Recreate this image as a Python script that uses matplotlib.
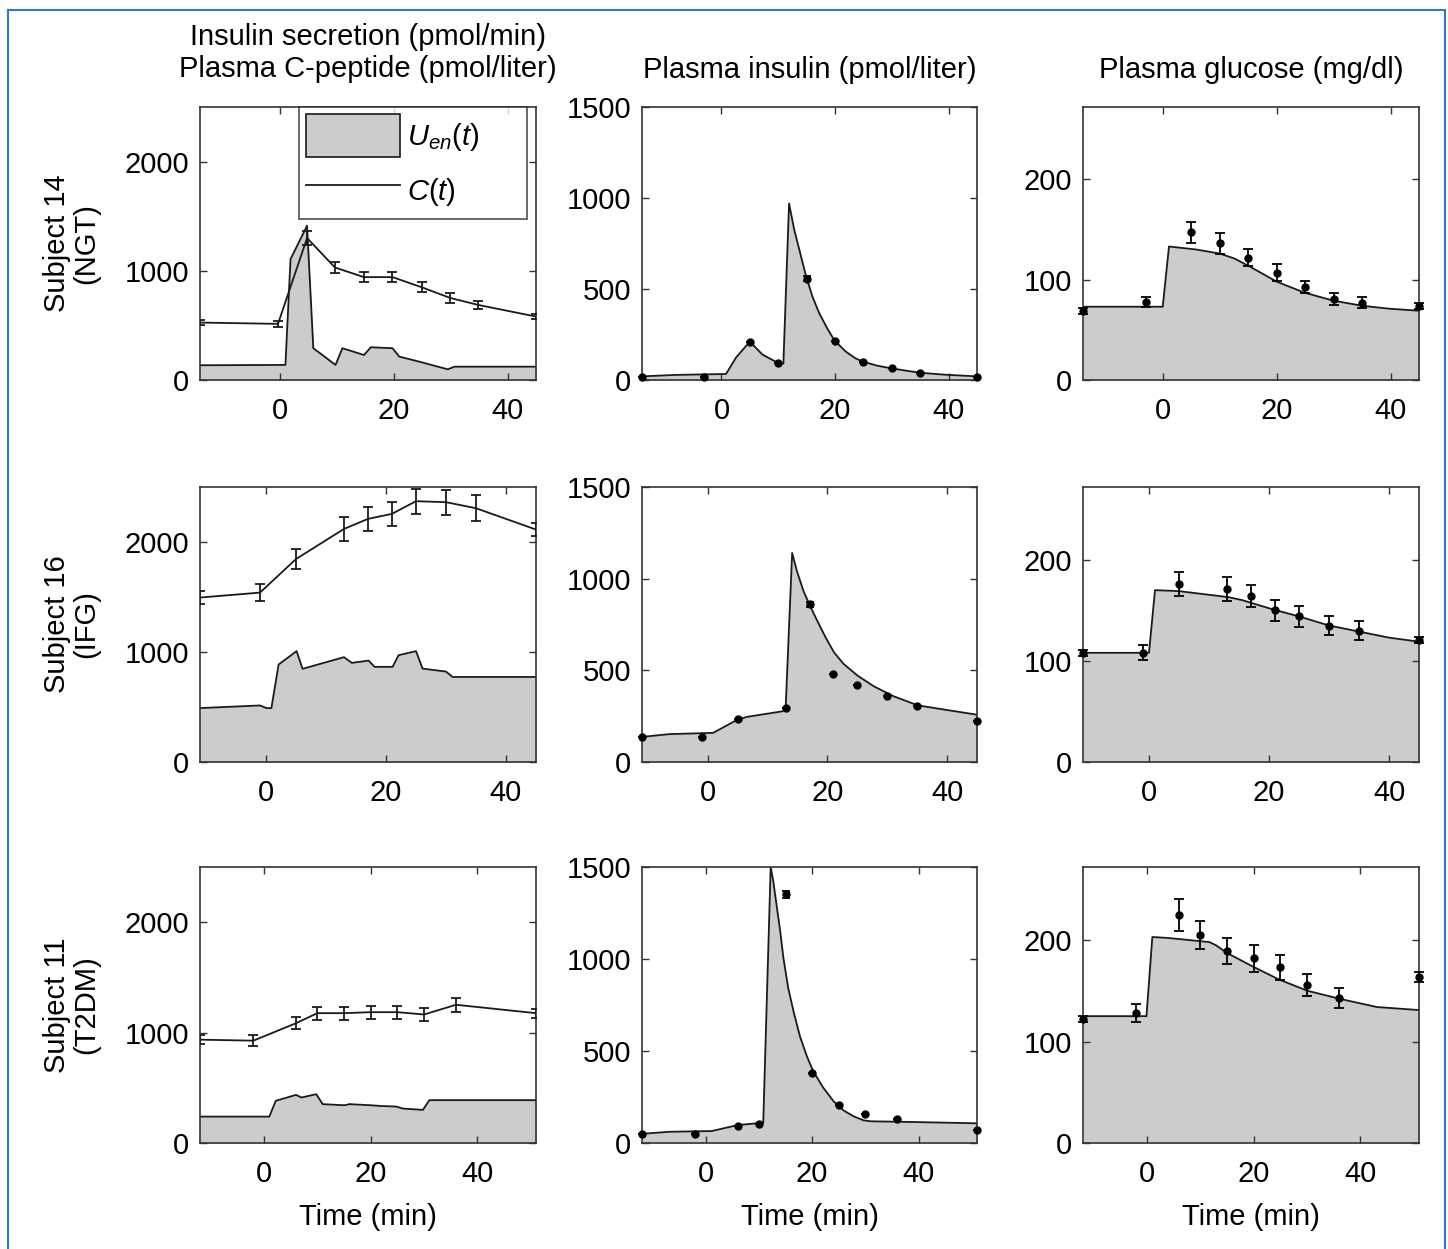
import matplotlib
matplotlib.use("Agg")
import matplotlib.pyplot as plt
from matplotlib.lines import Line2D
from matplotlib.patches import Patch

plt.rcParams['font.family'] = ['Liberation Sans', 'DejaVu Sans']
plt.rcParams['mathtext.fontset'] = 'custom'
plt.rcParams['mathtext.it'] = 'Liberation Sans:italic'
plt.rcParams['mathtext.rm'] = 'Liberation Sans'

# ---------------- data ----------------
subjects = ["Subject 14\n(NGT)", "Subject 16\n(IFG)", "Subject 11\n(T2DM)"]
col_titles = ["Insulin secretion (pmol/min)\nPlasma C-peptide (pmol/liter)",
              "Plasma insulin (pmol/liter)", "Plasma glucose (mg/dl)"]
xlims = [(-14, 45), (-11, 45), (-12, 51)]
xticks = [0, 20, 40]
yticks_c = [0, 1000, 2000]
yticks_i = [0, 500, 1000, 1500]
yticks_g = [0, 100, 200]

# Subject 14
c14_t = [-14, -0.3, 4.8, 9.7, 14.8, 19.8, 24.9, 29.9, 34.8, 45]
c14 = [526, 514, 1300, 1030, 942, 942, 850, 752, 688, 581]
c14_err = [25, 26, 60, 47, 46, 46, 46, 43, 38, 20]
u14_t = [-14, 1.0, 1.9, 4.8, 5.9, 9.8, 11, 14.8, 16, 19.8, 21, 24.5, 29.5, 30.7, 45]
u14 = [135, 138, 1107, 1413, 291, 138, 291, 229, 300, 291, 214, 168, 98, 122, 122]
i14_t = [-14, -3, 5, 10, 15, 20, 25, 30, 35, 45]
i14 = [18, 18, 211, 96, 557, 217, 101, 64, 37, 18]
i14_err = [0, 0, 0, 0, 12, 0, 0, 0, 0, 0]
im14_t = [-14, -8, 0.8, 2.6, 5, 7.2, 10, 10.9, 11.9, 12.8, 13.7, 14.9, 16, 17.2, 18.6, 19.9,
          21.9, 23.6, 24.9, 27.4, 29.9, 34.9, 39.4, 45]
im14 = [20, 28, 33, 125, 211, 140, 93, 90, 970, 827, 717, 570, 460, 368, 285, 217,
        156, 119, 101, 79, 64, 40, 29, 20]
g14_t = [-14, -3, 5, 10, 15, 20, 25, 30, 35, 45]
g14 = [69, 78, 147, 136, 122, 107, 93, 81, 77, 74]
g14_err = [3, 5, 10.7, 10, 8.7, 8.3, 6, 6, 5.7, 3]
gm14_t = [-14, 0, 1.1, 5.9, 10, 12.6, 15.3, 20, 24.9, 30, 35, 39.8, 45]
gm14 = [73, 73, 133, 130, 126, 121, 113, 98, 87, 79, 74, 71, 69]

# Subject 16
c16_t = [-11, -1, 5, 13, 17, 21, 25, 30, 35, 45]
c16 = [1495, 1540, 1845, 2119, 2210, 2256, 2371, 2362, 2307, 2113]
c16_err = [60, 76, 91, 107, 107, 107, 114, 114, 117, 60]
u16_t = [-11, -1, 0.1, 0.9, 2.1, 5.1, 6.1, 13, 14.3, 17.1, 18.1, 21.1, 22.1, 25, 26.1, 30, 31.1, 45]
u16 = [490, 514, 490, 490, 886, 1008, 847, 953, 901, 922, 865, 865, 971, 1008, 849, 822, 773, 773]
i16_t = [-11, -1, 5, 13, 17, 21, 25, 30, 35, 45]
i16 = [137, 137, 233, 294, 860, 481, 419, 358, 307, 221]
i16_err = [0, 0, 0, 0, 15, 0, 0, 0, 0, 0]
im16_t = [-11, -6.4, 0.9, 4.8, 6.5, 12.4, 13, 14.1, 14.9, 16, 17.1, 18.3, 19.7, 21.1, 22.7,
          25, 27.8, 31.1, 35.1, 40.1, 45]
im16 = [137, 152, 159, 228, 246, 276, 285, 1140, 1041, 932, 851, 770, 679, 598, 535,
        472, 412, 358, 309, 283, 258]
g16_t = [-11, -1, 5, 13, 17, 21, 25, 30, 35, 45]
g16 = [108, 108, 176, 171, 164, 150, 144, 135, 130, 121]
g16_err = [3, 7.4, 12, 12, 11, 10.6, 10, 9.5, 9, 3]
gm16_t = [-11, 0, 1, 5, 13.3, 15.6, 20.6, 25, 30, 35, 40, 45]
gm16 = [108, 108, 170, 169, 163, 160, 151, 144, 135, 129, 123, 119]

# Subject 11
c11_t = [-12, -2, 6, 10, 15, 20, 25, 30, 36, 51]
c11 = [936, 927, 1085, 1176, 1176, 1185, 1185, 1164, 1252, 1176]
c11_err = [40, 50, 56, 60, 60, 60, 60, 60, 65, 40]
u11_t = [-12, 1, 2.2, 6, 7, 9.8, 11, 15.1, 16, 20, 21.7, 24.8, 26, 29.8, 31, 51]
u11 = [239, 239, 382, 436, 412, 442, 352, 342, 352, 342, 336, 330, 312, 300, 388, 388]
i11_t = [-12, -2, 6, 10, 15, 20, 25, 30, 36, 51]
i11 = [50, 50, 92, 101, 1351, 378, 204, 159, 132, 72]
i11_err = [0, 0, 0, 0, 20, 0, 0, 0, 0, 0]
im11_t = [-12, -6.8, 1.1, 6.1, 10.8, 12.2, 12.7, 13.3, 14.0, 14.6, 15.5, 16.5, 17.7, 19.0,
          20.2, 22.1, 24.0, 25.9, 27.8, 29.7, 31.0, 39.1, 51]
im11 = [50, 61, 65, 98, 110, 1500, 1420, 1294, 1149, 1004, 842, 715, 580, 472,
        390, 300, 228, 177, 145, 123, 118, 114, 107]
g11_t = [-12, -2, 6, 10, 15, 20, 25, 30, 36, 51]
g11 = [122, 128, 225, 205, 189, 182, 173, 156, 143, 164]
g11_err = [3, 9, 15.6, 14, 13, 13, 12, 10.7, 10, 5]
gm11_t = [-12, -0.1, 1, 4.1, 11.7, 12.9, 15.1, 19.8, 24.8, 30.1, 36.2, 43.1, 51]
gm11 = [125, 125, 203, 202, 198, 195, 187, 174, 161, 150, 142, 134, 131]

rows = [
    dict(c_t=c14_t, c=c14, c_err=c14_err, u_t=u14_t, u=u14, i_t=i14_t, i=i14, i_err=i14_err,
         im_t=im14_t, im=im14, g_t=g14_t, g=g14, g_err=g14_err, gm_t=gm14_t, gm=gm14),
    dict(c_t=c16_t, c=c16, c_err=c16_err, u_t=u16_t, u=u16, i_t=i16_t, i=i16, i_err=i16_err,
         im_t=im16_t, im=im16, g_t=g16_t, g=g16, g_err=g16_err, gm_t=gm16_t, gm=gm16),
    dict(c_t=c11_t, c=c11, c_err=c11_err, u_t=u11_t, u=u11, i_t=i11_t, i=i11, i_err=i11_err,
         im_t=im11_t, im=im11, g_t=g11_t, g=g11, g_err=g11_err, gm_t=gm11_t, gm=gm11),
]

# ---------------- style ----------------
W, H = 1448, 1249
FS = 21
GRAY = '#cccccc'
LC = '#1a1a1a'
LW = 1.3

fig = plt.figure(figsize=(W / 100, H / 100), dpi=100)

col_x = [(200, 536), (642, 977), (1083, 1419)]
row_y = [(107, 380), (487, 762), (867, 1143)]


def make_ax(x0, x1, y0, y1):
    return fig.add_axes([x0 / W, 1 - y1 / H, (x1 - x0) / W, (y1 - y0) / H])


def style(ax, xlim, ylim, yticks):
    ax.set_xlim(*xlim)
    ax.set_ylim(*ylim)
    ax.set_xticks(xticks)
    ax.set_yticks(yticks)
    ax.tick_params(direction='in', top=True, right=True, length=5, width=1.0,
                   color='#333333', labelsize=FS)
    ax.tick_params(axis='x', pad=12)
    ax.tick_params(axis='y', pad=8)
    for s in ax.spines.values():
        s.set_linewidth(1.2)
        s.set_color('#333333')


for r, d in enumerate(rows):
    y0, y1 = row_y[r]
    xl = xlims[r]

    # C-peptide / secretion
    ax = make_ax(*col_x[0], y0, y1)
    ax.fill_between(d['u_t'], 0, d['u'], color=GRAY, lw=0, zorder=1)
    ax.plot(d['u_t'], d['u'], color=LC, lw=LW, zorder=2)
    ax.errorbar(d['c_t'], d['c'], yerr=d['c_err'], color=LC, lw=LW, elinewidth=LW,
                capsize=3.5, capthick=LW, zorder=3, clip_on=True)
    style(ax, xl, (0, 2500), yticks_c)
    if r == 0:
        handles = [Patch(facecolor=GRAY, edgecolor=LC, linewidth=1.2),
                   Line2D([0], [0], color=LC, lw=LW)]
        x0 = (299 - 200) / 336
        wbox = (527 - 299) / 336
        leg = ax.legend(handles, [r'$U_{en}(t)$', r'$C(t)$'], loc='upper left',
                        bbox_to_anchor=(x0, 0.0, wbox, 1.0), mode='expand',
                        fontsize=FS, frameon=True,
                        fancybox=False, handlelength=3.2, handleheight=1.85,
                        handletextpad=0.25, borderpad=0.25, labelspacing=0.45,
                        borderaxespad=0.0)
        leg.get_frame().set_edgecolor('#222222')
        leg.get_frame().set_linewidth(1.2)

    # insulin
    ax = make_ax(*col_x[1], y0, y1)
    ax.fill_between(d['im_t'], 0, d['im'], color=GRAY, lw=0, zorder=1)
    ax.plot(d['im_t'], d['im'], color=LC, lw=LW, zorder=2)
    ax.errorbar(d['i_t'], d['i'], yerr=d['i_err'], fmt='o', color='black', ms=5,
                elinewidth=LW, capsize=3, capthick=LW, zorder=3, clip_on=False)
    style(ax, xl, (0, 1500), yticks_i)

    # glucose
    ax = make_ax(*col_x[2], y0, y1)
    ax.fill_between(d['gm_t'], 0, d['gm'], color=GRAY, lw=0, zorder=1)
    ax.plot(d['gm_t'], d['gm'], color=LC, lw=LW, zorder=2)
    ax.errorbar(d['g_t'], d['g'], yerr=d['g_err'], fmt='o', color='black', ms=5,
                elinewidth=LW, capsize=3.5, capthick=LW, zorder=3, clip_on=False)
    style(ax, xl, (0, 272), yticks_g)

    # row label
    fig.text(72 / W, 1 - ((y0 + y1) / 2) / H, subjects[r], rotation=90,
             ha='center', va='center', fontsize=FS, multialignment='center',
             linespacing=1.05)

# column titles
fig.text(((col_x[0][0] + col_x[0][1]) / 2) / W, 1 - 53 / H, col_titles[0],
         ha='center', va='center', fontsize=FS, linespacing=1.15)
fig.text(((col_x[1][0] + col_x[1][1]) / 2) / W, 1 - 70 / H, col_titles[1],
         ha='center', va='center', fontsize=FS)
fig.text(((col_x[2][0] + col_x[2][1]) / 2) / W, 1 - 70 / H, col_titles[2],
         ha='center', va='center', fontsize=FS)
for cx in col_x:
    fig.text(((cx[0] + cx[1]) / 2) / W, 1 - 1217 / H, "Time (min)",
             ha='center', va='center', fontsize=FS)

# blue frame (left, top, right)
bc = '#2b7cc2'
fig.add_artist(Line2D([8 / W, 8 / W], [0, 1 - 10 / H], transform=fig.transFigure, color=bc, lw=1.5))
fig.add_artist(Line2D([8 / W, 1445 / W], [1 - 10 / H, 1 - 10 / H], transform=fig.transFigure, color=bc, lw=1.5))
fig.add_artist(Line2D([1445 / W, 1445 / W], [0, 1 - 10 / H], transform=fig.transFigure, color=bc, lw=1.5))

fig.savefig("out.png", dpi=100)
